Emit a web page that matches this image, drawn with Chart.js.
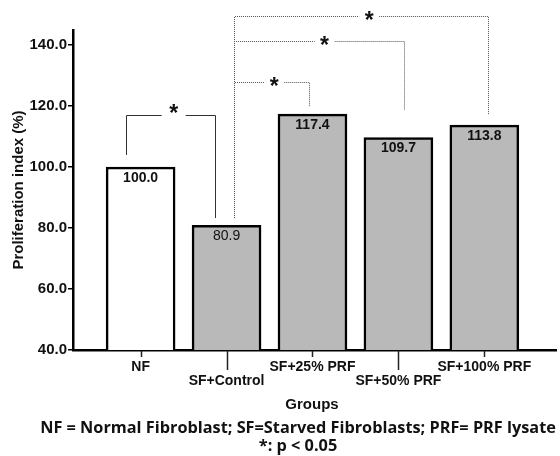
<!DOCTYPE html>
<html>
<head>
<meta charset="utf-8">
<script src="https://cdn.jsdelivr.net/npm/chart.js@4.4.0/dist/chart.umd.min.js"></script>
<style>
  html, body { margin: 0; padding: 0; background: #fff; }
  #wrap { width: 560px; height: 456px; }
</style>
</head>
<body>
<div id="wrap"><canvas id="myChart" width="560" height="456"></canvas></div>
<script>
// Chart data
const categories = ['NF', 'SF+Control', 'SF+25% PRF', 'SF+50% PRF', 'SF+100% PRF'];
const values = [100.0, 80.9, 117.4, 109.7, 113.8];
const valueLabels = ['100.0', '80.9', '117.4', '109.7', '113.8'];
const yTicks = [40, 60, 80, 100, 120, 140];

// Significance comparisons (group pairs) and bracket heights in % units
const sigPairs = [[0, 1], [1, 2], [1, 3], [1, 4]];
const sigTops = [117.1, 127.9, 141.4, 149.6];
const sigLegEnds = [[104.0, 83.3], [83.3, 120.0], [83.3, 118.7], [83.3, 117.1]];

const canvas = document.getElementById('myChart');
const ctx = canvas.getContext('2d');

const barFills = categories.map((c, i) => i === 0 ? '#ffffff' : '#b9b9b9');

// fit a line of text to a given width
function fitFont(c, text, family, width) {
  c.font = 'bold 20px ' + family;
  const size = 20 * width / c.measureText(text).width;
  return 'bold ' + size.toFixed(2) + 'px ' + family;
}

// Draws the staggered tick marks, value labels, brackets and text
const extrasPlugin = {
  id: 'extras',
  afterDraw(chart) {
    const c = chart.ctx;
    const xs = chart.scales.x;
    const ys = chart.scales.y;
    const base = ys.getPixelForValue(40);

    c.save();
    // x tick marks, every second one long
    c.strokeStyle = '#222';
    c.lineWidth = 1.5;
    categories.forEach((cat, i) => {
      const px = Math.round(xs.getPixelForValue(i)) + 0.5;
      c.beginPath();
      c.moveTo(px, base + 1);
      c.lineTo(px, base + (i % 2 ? 20 : 7));
      c.stroke();
    });

    // value labels inside bars
    const meta = chart.getDatasetMeta(0);
    c.fillStyle = '#111';
    c.textAlign = 'center';
    c.textBaseline = 'middle';
    meta.data.forEach((bar, i) => {
      c.font = (i === 1 ? '' : 'bold ') + '14px "Liberation Sans", Arial, sans-serif';
      c.fillText(valueLabels[i], bar.x, bar.y + 11);
    });

    // significance brackets
    const legOffsets = [[-0.17, -0.13], [0.09, -0.04], [0.09, 0.06], [0.09, 0.04]];
    sigPairs.forEach((pair, k) => {
      const x1 = Math.round(xs.getPixelForValue(pair[0] + legOffsets[k][0])) + 0.5;
      const x2 = Math.round(xs.getPixelForValue(pair[1] + legOffsets[k][1])) + 0.5;
      const yt = Math.round(ys.getPixelForValue(sigTops[k])) + 0.5;
      const y1 = ys.getPixelForValue(sigLegEnds[k][0]);
      const y2 = ys.getPixelForValue(sigLegEnds[k][1]);
      const sx = x1 + (x2 - x1) * 0.53;
      const gap = k === 0 ? 12 : 10;
      const dotted = k > 0;
      c.strokeStyle = dotted ? '#555' : '#333';
      c.lineWidth = 1;
      c.setLineDash(dotted ? [1, 1] : []);
      c.beginPath();
      c.moveTo(x1, y1);
      c.lineTo(x1, yt);
      c.lineTo(sx - gap, yt);
      c.moveTo(sx + gap, yt);
      c.lineTo(x2, yt);
      c.lineTo(x2, y2);
      c.stroke();
      c.setLineDash([]);
      c.font = 'bold 23px "Liberation Sans", Arial, sans-serif';
      const m = c.measureText('*');
      const off = (m.actualBoundingBoxAscent - m.actualBoundingBoxDescent) / 2;
      c.textBaseline = 'alphabetic';
      c.fillStyle = '#111';
      c.fillText('*', sx, yt + off - 1);
    });

    // axis title
    c.textBaseline = 'middle';
    c.fillStyle = '#111';
    c.save();
    c.translate(19, (chart.chartArea.top + chart.chartArea.bottom) / 2);
    c.rotate(-Math.PI / 2);
    c.font = 'bold 15px "Liberation Sans", Arial, sans-serif';
    c.fillText('Proliferation index (%)', 0, 0);
    c.restore();

    c.font = 'bold 15px "Liberation Sans", Arial, sans-serif';
    c.fillText('Groups', 312, 405);
    const note = 'NF = Normal Fibroblast; SF=Starved Fibroblasts; PRF= PRF lysate';
    const noteFont = fitFont(c, note, '"Open Sans", sans-serif', 516);
    c.font = noteFont;
    c.fillText(note, 298, 428);
    c.fillText('*: p < 0.05', 298, 446);
    c.restore();
  }
};

const myChart = new Chart(ctx, {
  type: 'bar',
  data: {
    datasets: [{
      label: 'Proliferation index',
      data: values.map((v, i) => ({ x: i, y: v })),
      backgroundColor: barFills,
      borderColor: '#000',
      borderWidth: 2.5,
      barThickness: 69
    }]
  },
  options: {
    responsive: false,
    animation: false,
    events: [],
    layout: { padding: { top: 30, right: 4, left: 0, bottom: 0 } },
    plugins: {
      legend: { display: false },
      tooltip: { enabled: false }
    },
    scales: {
      x: {
        type: 'linear',
        offset: false,
        min: -0.787,
        max: 4.834,
        grid: { display: false },
        border: { display: true, color: '#000', width: 2.5 },
        afterBuildTicks: scale => {
          scale.ticks = categories.map((c, i) => ({ value: i }));
        },
        afterFit: scale => { scale.height = 106; },
        ticks: {
          autoSkip: false,
          maxRotation: 0,
          padding: 2,
          color: '#111',
          font: { family: '"Liberation Sans", Arial, sans-serif', size: 14, weight: 'bold', lineHeight: 1.0 },
          callback: value => {
            const i = Math.round(value);
            return i % 2 ? ['', categories[i]] : categories[i];
          }
        }
      },
      y: {
        min: 40,
        max: 145,
        grid: {
          drawOnChartArea: false,
          drawTicks: true,
          tickLength: 5,
          color: '#000',
          lineWidth: 1.5
        },
        border: { display: true, color: '#000', width: 2.5 },
        afterBuildTicks: scale => {
          scale.ticks = yTicks.map(v => ({ value: v }));
        },
        afterFit: scale => { scale.width = 73; },
        ticks: {
          padding: 1,
          color: '#111',
          font: { family: '"Liberation Sans", Arial, sans-serif', size: 15, weight: 'bold' },
          callback: value => value.toFixed(1)
        }
      }
    }
  },
  plugins: [extrasPlugin]
});
</script>
</body>
</html>
